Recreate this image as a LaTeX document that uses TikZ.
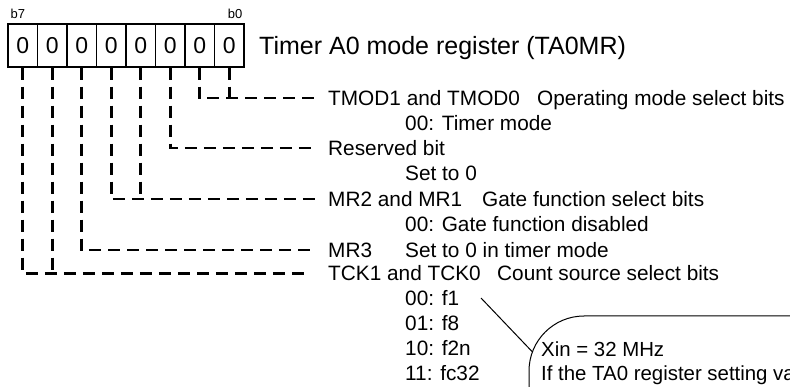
\documentclass[tikz,border=0pt]{standalone}
\usepackage{fontspec}
\setmainfont{Liberation Sans}
\begin{document}
\begin{tikzpicture}[x=1pt,y=-1pt,
  cell/.style={draw, line width=1.3pt, minimum width=29.5pt, minimum height=43pt, inner sep=0pt, font=\fontsize{23}{27}\selectfont},
  lbl/.style={inner xsep=11pt, inner ysep=0pt, anchor=west, text height=14.9pt, text depth=0pt, font=\fontsize{20.8}{24}\selectfont},
  sub/.style={lbl, inner xsep=0pt},
  note/.style={sub, text height=14.6pt, font=\fontsize{20.4}{24}\selectfont},
  titlelbl/.style={inner sep=0pt, anchor=west, text height=18pt, text depth=0pt, font=\fontsize{25}{29}\selectfont},
  bitlbl/.style={inner sep=0pt, text height=9.3pt, text depth=0pt, font=\fontsize{13}{15}\selectfont},
  leader/.style={line width=2.6pt, dash pattern=on 12pt off 7pt},
  thinline/.style={line width=1pt}]
\clip (0,0) rectangle (790,387);
% register cells
\foreach \i/\n in {0/7,1/6,2/5,3/4,4/3,5/2,6/1,7/0}
  \node[cell] (c\n) at ({8+29.5*(\i+0.5)},45.5) {0};
\node[bitlbl, anchor=west] (b7) at (10.5,13.5) {b7};
\node[bitlbl, anchor=east] (b0) at (242.5,13.5) {b0};
\node[titlelbl] (title) at (259,45.5) {Timer A0 mode register (TA0MR)};
% field labels
\node[lbl] (tmod) at (317,98) {TMOD1 and TMOD0};
\node[sub] (tmodd) at (537,98) {Operating mode select bits};
\node[sub] (tmodv) at (405,123) {00: Timer mode};
\node[lbl] (res) at (317,148) {Reserved bit};
\node[sub] (resv) at (405,173.5) {Set to 0};
\node[lbl] (mr) at (317,199) {MR2 and MR1};
\node[sub] (mrd) at (482,199) {Gate function select bits};
\node[sub] (mrv) at (405,224.5) {00: Gate function disabled};
\node[lbl] (mr3) at (317,250) {MR3};
\node[sub] (mr3d) at (405,250) {Set to 0 in timer mode};
\node[lbl] (tck) at (317,273.5) {TCK1 and TCK0};
\node[sub] (tckd) at (497,273.5) {Count source select bits};
\node[sub] (f1) at (405,298.3) {00: f1};
\node[sub] (f8) at (405,323.1) {01: f8};
\node[sub] (f2n) at (405,347.9) {10: f2n};
\node[sub] (fc32) at (405,372.7) {11: fc32};
% leader lines
\draw[leader] (c0.south) -- (c0.south |- tmod.west);
\draw[leader] (c1.south) |- (tmod.west);
\draw[leader] (c2.south) |- (res.west);
\draw[leader] (c3.south) -- (c3.south |- mr.west);
\draw[leader] (c4.south) |- (mr.west);
\draw[leader] (c5.south) |- (mr3.west);
\draw[leader] (c6.south) -- (c6.south |- tck.west);
\draw[leader, shorten >=9pt] (c7.south) |- (tck.west);
% callout
\coordinate (cbl) at (529,400);
\coordinate (ctl) at (529,316);
\coordinate (ctr) at (800,316);
\draw[thinline, rounded corners=55pt] (cbl) -- (ctl) -- (ctr);
\coordinate (pa) at (481,298);
\coordinate (pb) at (532.5,352);
\draw[thinline] (pa) -- (pb);
\node[note] (xin) at (541,349) {Xin = 32 MHz};
\node[note] (ifthe) at (541,373.5) {If the TA0 register setting value};
\end{tikzpicture}
\end{document}
